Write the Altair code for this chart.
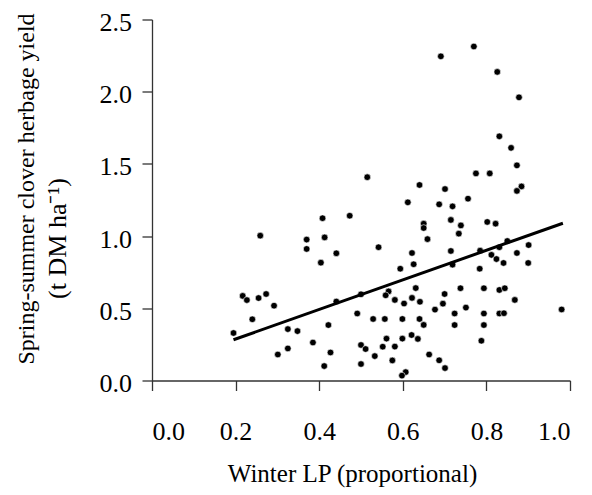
import altair as alt
import pandas as pd

# Winter LP (proportional) and spring-summer clover herbage yield (t DM/ha)
winter_lp = [
    0.691, 0.770, 0.826, 0.878, 0.831, 0.859, 0.873, 0.515, 0.775, 0.808,
    0.884, 0.873, 0.640, 0.701, 0.612, 0.687, 0.719, 0.756, 0.473, 0.408,
    0.650, 0.650, 0.715, 0.739, 0.802, 0.822, 0.259, 0.370, 0.413, 0.370,
    0.441, 0.404, 0.659, 0.734, 0.542, 0.622, 0.715, 0.626, 0.785, 0.812,
    0.824, 0.841, 0.850, 0.831, 0.873, 0.901, 0.900, 0.594, 0.719, 0.784,
    0.217, 0.227, 0.255, 0.273, 0.292, 0.240, 0.195, 0.325, 0.348, 0.422,
    0.441, 0.385, 0.325, 0.301, 0.427, 0.412, 0.500, 0.491, 0.529, 0.500,
    0.511, 0.500, 0.533, 0.566, 0.559, 0.581, 0.603, 0.622, 0.641, 0.631,
    0.700, 0.696, 0.677, 0.738, 0.751, 0.794, 0.831, 0.844, 0.868, 0.980,
    0.557, 0.599, 0.640, 0.650, 0.724, 0.724, 0.794, 0.794, 0.831, 0.842,
    0.788, 0.561, 0.552, 0.581, 0.599, 0.621, 0.636, 0.575, 0.663, 0.687,
    0.701, 0.607, 0.598,
]
clover_yield = [
    2.245, 2.313, 2.137, 1.961, 1.691, 1.611, 1.490, 1.408, 1.434, 1.434,
    1.344, 1.313, 1.354, 1.326, 1.234, 1.220, 1.206, 1.259, 1.141, 1.124,
    1.086, 1.056, 1.112, 1.074, 1.098, 1.086, 1.003, 0.976, 0.991, 0.911,
    0.881, 0.816, 0.979, 1.017, 0.923, 0.883, 0.897, 0.805, 0.899, 0.870,
    0.841, 0.814, 0.966, 0.923, 0.883, 0.938, 0.814, 0.774, 0.802, 0.774,
    0.586, 0.557, 0.571, 0.599, 0.518, 0.424, 0.329, 0.356, 0.342, 0.384,
    0.547, 0.263, 0.222, 0.180, 0.194, 0.100, 0.597, 0.464, 0.426, 0.246,
    0.218, 0.114, 0.169, 0.617, 0.590, 0.558, 0.533, 0.572, 0.545, 0.640,
    0.599, 0.532, 0.491, 0.639, 0.505, 0.639, 0.627, 0.639, 0.558, 0.492,
    0.426, 0.426, 0.426, 0.385, 0.464, 0.384, 0.464, 0.384, 0.464, 0.466,
    0.275, 0.290, 0.234, 0.235, 0.290, 0.315, 0.288, 0.139, 0.180, 0.140,
    0.086, 0.058, 0.034,
]

# Fitted regression line end points
fit_x = [0.195, 0.983]
fit_y = [0.282, 1.089]

x_ticks = [0.0, 0.2, 0.4, 0.6, 0.8, 1.0]
y_ticks = [0.0, 0.5, 1.0, 1.5, 2.0, 2.5]

x_title = "Winter LP (proportional)"
y_title_1 = "Spring-summer clover herbage yield"
y_title_2 = "(t DM ha\u207b\u00b9)"

FONT = "Liberation Serif"

pts = pd.DataFrame({"lp": winter_lp, "yield": clover_yield})
fit = pd.DataFrame({"lp": fit_x, "yield": fit_y})
t2 = pd.DataFrame({"t": [y_title_2]})

x_enc = alt.X(
    "lp:Q",
    scale=alt.Scale(domain=[0, 1], nice=False),
    axis=alt.Axis(
        values=x_ticks, format=".1f", title=x_title,
        labelPadding=49, labelBaseline="alphabetic",
        titleX=200, titleY=101, titleAlign="center", titleBaseline="alphabetic",
        titleFontSize=25,
    ),
)
y_enc = alt.Y(
    "yield:Q",
    scale=alt.Scale(domain=[0, 2.5], nice=False),
    axis=alt.Axis(
        values=y_ticks, format=".1f", title=y_title_1,
        labelPadding=10.5, labelOffset=3,
        titleAngle=270, titleX=-119, titleY=169, titleAlign="center",
        titleBaseline="alphabetic", titleFontSize=24,
    ),
)

points = alt.Chart(pts).mark_point(
    filled=True, size=44, fill="black", stroke="white", strokeWidth=0.6, opacity=1
).encode(x=x_enc, y=y_enc)

line = alt.Chart(fit).mark_line(color="black", strokeWidth=3).encode(
    x="lp:Q", y="yield:Q"
)

title2 = alt.Chart(t2).mark_text(
    angle=270, align="center", baseline="alphabetic",
    font=FONT, fontSize=26, color="black",
).encode(x=alt.value(-85.6), y=alt.value(219), text="t:N")

chart = alt.layer(points, line, title2).properties(
    width=418, height=361,
    autosize=alt.AutoSizeParams(type="none"),
    padding={"left": 144, "top": 11.5, "right": 14, "bottom": 107},
).configure_view(stroke=None).configure_axis(
    grid=False,
    domainColor="#333333", domainWidth=1.3,
    tickColor="#333333", tickWidth=1.3, tickSize=10,
    labelFont=FONT, labelFontSize=26, labelColor="black",
    titleFont=FONT, titleFontWeight="normal", titleColor="black",
)

chart.save("out.html", embed_options={"renderer": "svg", "actions": False})
